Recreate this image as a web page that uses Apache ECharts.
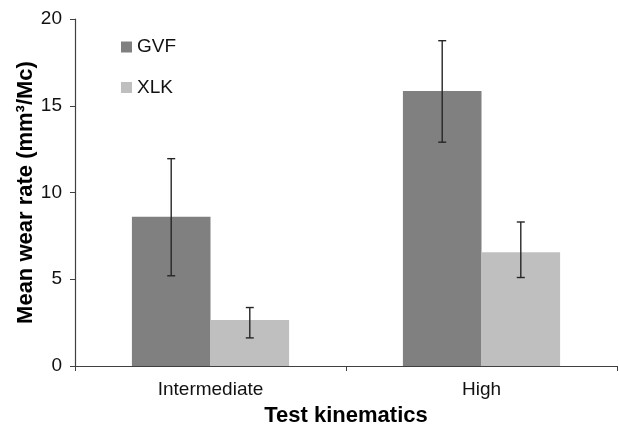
<!DOCTYPE html>
<html>
<head>
<meta charset="utf-8">
<script src="https://cdn.jsdelivr.net/npm/echarts@6/dist/echarts.min.js"></script>
<style>
html,body{margin:0;padding:0;background:#fff;}
#chart{width:619px;height:426px;}
</style>
</head>
<body>
<div id="chart"></div>
<script>
var categories = ['Intermediate', 'High'];
var gvfValues = [8.6, 15.85];
var xlkValues = [2.65, 6.55];
var gvfErrLow = [5.2, 12.9];
var gvfErrHigh = [11.95, 18.75];
var xlkErrLow = [1.62, 5.1];
var xlkErrHigh = [3.37, 8.3];
var yTicks = [0, 5, 10, 15, 20];

var CAT_GAP = 0.42;
var FONT = 'Liberation Sans, Arial, sans-serif';

function errorSeries(name, lows, highs, side) {
  var data = categories.map(function (c, i) { return [i, lows[i], highs[i]]; });
  return {
    type: 'custom',
    name: name + ' err',
    silent: true,
    z: 10,
    data: data,
    encode: { x: 0, y: [1, 2] },
    renderItem: function (params, api) {
      var idx = api.value(0);
      var lo = api.coord([idx, api.value(1)]);
      var hi = api.coord([idx, api.value(2)]);
      var band = api.size([1, 0])[0];
      var bw = band * (1 - CAT_GAP) / 2;
      var x = lo[0] + side * bw / 2;
      var cap = 4;
      var style = { stroke: '#262626', lineWidth: 1.4 };
      return {
        type: 'group',
        children: [
          { type: 'line', shape: { x1: x, y1: lo[1], x2: x, y2: hi[1] }, style: style },
          { type: 'line', shape: { x1: x - cap, y1: lo[1], x2: x + cap, y2: lo[1] }, style: style },
          { type: 'line', shape: { x1: x - cap, y1: hi[1], x2: x + cap, y2: hi[1] }, style: style }
        ]
      };
    }
  };
}

var chart = echarts.init(document.getElementById('chart'), null, { renderer: 'canvas' });
chart.setOption({
  animation: false,
  backgroundColor: '#ffffff',
  textStyle: { fontFamily: FONT },
  grid: { left: 75, right: 2, top: 19, bottom: 60, containLabel: false, outerBoundsMode: 'none' },
  legend: {
    data: ['GVF', 'XLK'],
    orient: 'vertical',
    left: 121,
    top: 37.5,
    padding: 0,
    icon: 'rect',
    itemWidth: 11,
    itemHeight: 11,
    itemGap: 21.5,
    textStyle: { fontSize: 19, color: '#111', fontFamily: FONT }
  },
  xAxis: {
    type: 'category',
    data: categories,
    name: 'Test kinematics',
    nameLocation: 'middle',
    nameGap: 39,
    nameMoveOverlap: false,
    nameTextStyle: { fontSize: 22, fontWeight: 'bold', color: '#000', fontFamily: FONT, verticalAlign: 'top' },
    axisLine: { lineStyle: { color: '#404040', width: 1.2 } },
    axisTick: { show: true, length: 5, alignWithLabel: false, lineStyle: { color: '#404040' } },
    axisLabel: { fontSize: 19, color: '#111', margin: 14, fontFamily: FONT },
    splitLine: { show: false }
  },
  yAxis: {
    type: 'value',
    min: yTicks[0],
    max: yTicks[yTicks.length - 1],
    interval: 5,
    name: 'Mean wear rate (mm³/Mc)',
    nameLocation: 'middle',
    nameRotate: 90,
    nameGap: 38,
    nameMoveOverlap: false,
    nameTextStyle: { fontSize: 22, fontWeight: 'bold', color: '#000', fontFamily: FONT },
    axisLine: { show: true, lineStyle: { color: '#404040', width: 1.2 } },
    axisTick: { show: true, length: 5, lineStyle: { color: '#404040' } },
    axisLabel: { fontSize: 19, color: '#111', margin: 13, fontFamily: FONT },
    splitLine: { show: false }
  },
  series: [
    {
      name: 'GVF',
      type: 'bar',
      data: gvfValues,
      barGap: '0%',
      barCategoryGap: (CAT_GAP * 100) + '%',
      itemStyle: { color: '#808080' }
    },
    {
      name: 'XLK',
      type: 'bar',
      data: xlkValues,
      barGap: '0%',
      barCategoryGap: (CAT_GAP * 100) + '%',
      itemStyle: { color: '#bfbfbf' }
    },
    errorSeries('GVF', gvfErrLow, gvfErrHigh, -1),
    errorSeries('XLK', xlkErrLow, xlkErrHigh, 1)
  ]
});
</script>
</body>
</html>
